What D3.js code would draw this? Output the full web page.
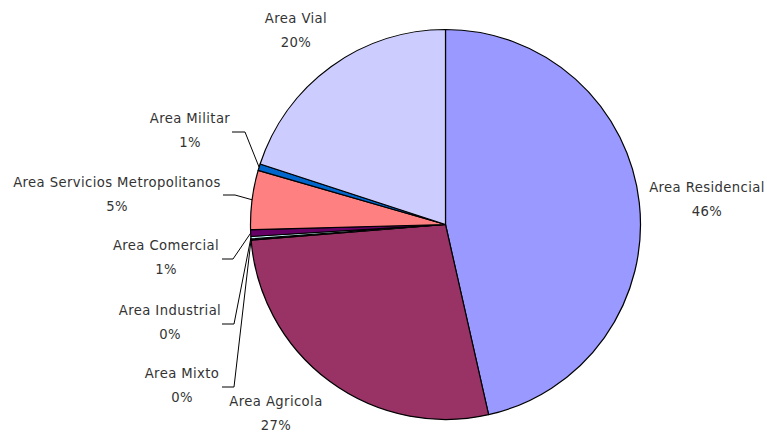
<!DOCTYPE html>
<html>
<head>
<meta charset="utf-8">
<script src="https://cdn.jsdelivr.net/npm/d3@7"></script>
<style>
  html, body { margin: 0; padding: 0; background: #fff; }
  svg { display: block; }
  .lbl { font-family: "DejaVu Sans", sans-serif; font-size: 13.2px; letter-spacing: 0.4px; fill: #333; }
</style>
</head>
<body>
<svg id="chart" width="767" height="433"></svg>
<script>
var categories = ["Area Residencial", "Area Agricola", "Area Mixto", "Area Industrial",
                  "Area Comercial", "Area Servicios Metropolitanos", "Area Militar", "Area Vial"]
var values = [46.5, 27.3, 0.1, 0.2, 0.55, 4.9, 0.55, 20.0]
var percentLabels = ["46%", "27%", "0%", "0%", "1%", "5%", "1%", "20%"]
var colors = ["#9999FF", "#993366", "#FFFFCC", "#CCFFFF", "#660066", "#FF8080", "#0066CC", "#CCCCFF"]

// where excel put each label: text centre, first baseline, and the leader's elbow / end
var labelLayout = [
  { x: 707, y: 192 },
  { x: 276, y: 406 },
  { x: 182, y: 378, elbow: [234, 387], end: [222, 387] },
  { x: 170, y: 315, elbow: [234, 324], end: [222, 324] },
  { x: 166, y: 250, elbow: [233, 259], end: [222, 259] },
  { x: 117, y: 187, elbow: [235, 195], end: [223, 195] },
  { x: 190, y: 123, elbow: [245, 132], end: [232, 132] },
  { x: 296, y: 23 }
]

function draw() {
  var svg = d3.select("#chart")
  var cx = 445.5, cy = 224.5, r = 195

  var pie = d3.pie().sort(null).value(function(d) { return d })
  var arcs = pie(values)
  var arc = d3.arc().innerRadius(0).outerRadius(r)

  var g = svg.append("g").attr("transform", "translate(" + cx + "," + cy + ")")
  g.selectAll("path.slice").data(arcs).enter()
    .append("path")
    .attr("class", "slice")
    .attr("d", arc)
    .attr("fill", function(d, i) { return colors[i] })
    .attr("stroke", "#000")
    .attr("stroke-width", 1.2)
    .attr("stroke-linejoin", "round")

  // leader lines from the rim of the slice
  arcs.forEach(function(a, i) {
    var L = labelLayout[i]
    if (!L.elbow) return
    var mid = (a.startAngle + a.endAngle) / 2
    var px = cx + Math.sin(mid) * r, py = cy - Math.cos(mid) * r
    svg.append("polyline")
      .attr("points", [[px, py], L.elbow, L.end].map(function(p) { return p.join(",") }).join(" "))
      .attr("fill", "none")
      .attr("stroke", "#000")
      .attr("stroke-width", 1)
  })

  var labels = svg.selectAll("g.lab").data(categories).enter()
    .append("g").attr("class", "lab")
  labels.append("text")
    .attr("class", "lbl")
    .attr("text-anchor", "middle")
    .attr("x", function(d, i) { return labelLayout[i].x })
    .attr("y", function(d, i) { return labelLayout[i].y })
    .text(function(d) { return d })
  labels.append("text")
    .attr("class", "lbl")
    .attr("text-anchor", "middle")
    .attr("x", function(d, i) { return labelLayout[i].x })
    .attr("y", function(d, i) { return labelLayout[i].y + 23.5 })
    .text(function(d, i) { return percentLabels[i] })
}
draw()
</script>
</body>
</html>
